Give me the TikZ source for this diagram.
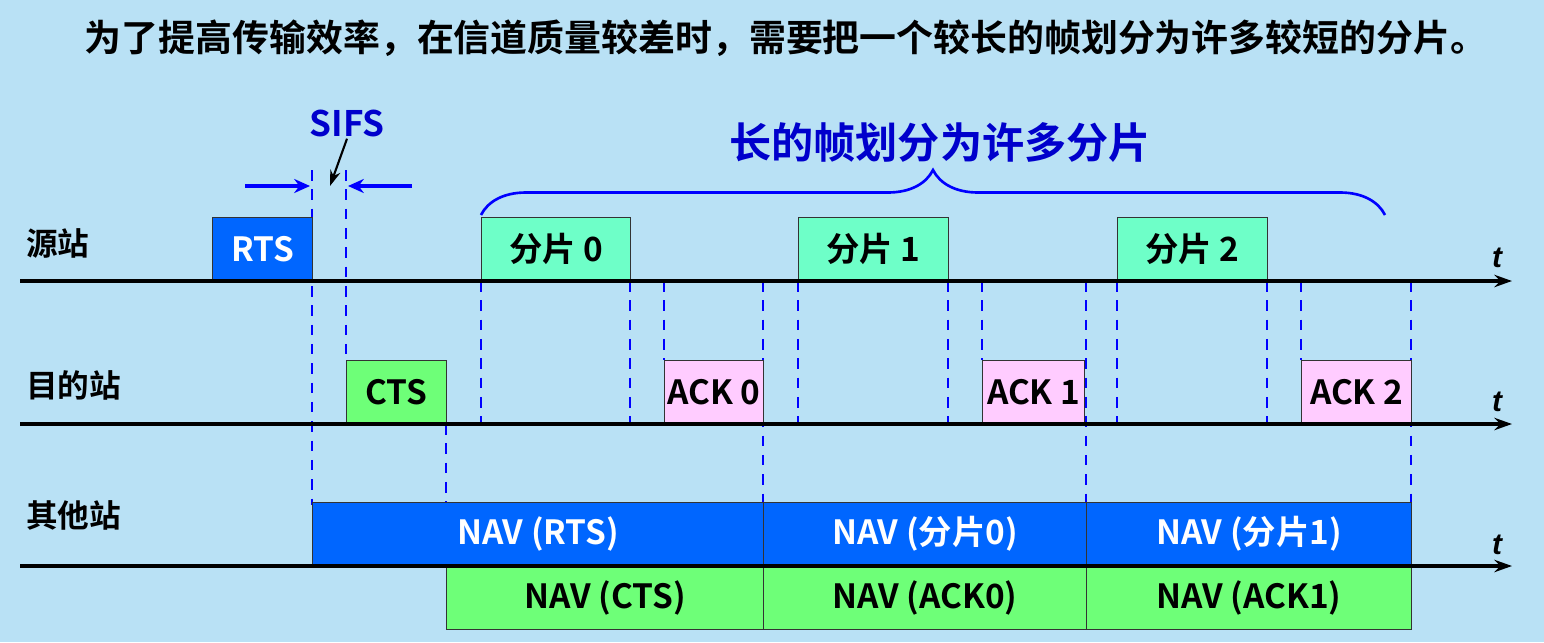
\documentclass[tikz,border=0pt]{standalone}
\usepackage{fontspec}
\setmainfont{Noto Sans CJK SC}[BoldFont={* Bold}]
\newfontfamily\axisfont{Liberation Sans}
\usetikzlibrary{decorations.pathreplacing,arrows.meta}
\definecolor{bgblue}{RGB}{185,225,245}
\definecolor{rtsblue}{RGB}{0,102,255}
\definecolor{fragmint}{RGB}{110,255,200}
\definecolor{ackpink}{RGB}{255,204,255}
\definecolor{ctsgreen}{RGB}{110,255,120}
\definecolor{sifsblue}{RGB}{0,0,204}
\tikzset{
  frame/.style={draw=black!80,line width=0.6pt,minimum height=63*0.02cm,inner sep=0pt,anchor=south west,font=\bfseries\fontsize{19}{19}\selectfont},
  bluebox/.style={frame,fill=rtsblue,text=white},
  fragbox/.style={frame,fill=fragmint},
  ackbox/.style={frame,fill=ackpink},
  greenbox/.style={frame,fill=ctsgreen},
  timeline/.style={line width=2pt,-{Stealth[length=10pt,width=7pt]}},
  guide/.style={blue,dashed,line width=1pt,dash pattern=on 6pt off 5pt},
  station/.style={anchor=west,font=\bfseries\fontsize{18}{18}\selectfont},
  taxis/.style={font=\axisfont\bfseries\itshape\fontsize{17}{17}\selectfont}
}
\begin{document}
\begin{tikzpicture}[x=0.02cm,y=-0.02cm]
    \fill[bgblue] (0,0) rectangle (1544,642);
    \useasboundingbox (0,0) rectangle (1544,642);

    \node[font=\bfseries\fontsize{21}{21}\selectfont] (title) at (786,38) {为了提高传输效率，在信道质量较差时，需要把一个较长的帧划分为许多较短的分片。};

    % stations and time axes
    \node[station] (src) at (20,243) {源站};
    \node[station] (dst) at (20,385) {目的站};
    \node[station] (oth) at (20,515) {其他站};
    \coordinate (a1) at (20,281); \coordinate (b1) at (1512,281);
    \coordinate (a2) at (20,424); \coordinate (b2) at (1512,424);
    \coordinate (a3) at (20,566); \coordinate (b3) at (1512,566);

    % dashed guides
    \draw[guide] (312,170) -- (312,505);
    \draw[guide] (346,170) -- (346,360);
    \draw[guide] (446,424) -- (446,566);
    \foreach \xa/\xb/\xc/\xd in {481/630/664/763,798/948/982/1086,1117/1267/1301/1411}{
        \draw[guide] (\xa,281) -- (\xa,424);
        \draw[guide] (\xb,281) -- (\xb,424);
        \draw[guide] (\xc,281) -- (\xc,360);
        \draw[guide] (\xd,281) -- (\xd,505);
    }

    % frames
    \node[bluebox,minimum width=100*0.02cm] (rts) at (212,281) {RTS};
    \node[greenbox,minimum width=100*0.02cm] (cts) at (346,424) {CTS};
    \node[fragbox,minimum width=149*0.02cm] (f0) at (481,281) {分片 0};
    \node[fragbox,minimum width=150*0.02cm] (f1) at (798,281) {分片 1};
    \node[fragbox,minimum width=150*0.02cm] (f2) at (1117,281) {分片 2};
    \node[ackbox,minimum width=99*0.02cm] (k0) at (664,424) {ACK 0};
    \node[ackbox,minimum width=102*0.02cm] (k1) at (982,424) {ACK 1};
    \node[ackbox,minimum width=110*0.02cm] (k2) at (1301,424) {ACK 2};

    \node[bluebox,minimum width=451*0.02cm] (navrts) at (312,566) {NAV (RTS)};
    \node[bluebox,minimum width=323*0.02cm] (navf0) at (763,566) {NAV (分片0)};
    \node[bluebox,minimum width=325*0.02cm] (navf1) at (1086,566) {NAV (分片1)};
    \node[greenbox,minimum width=317*0.02cm,anchor=north west] (navcts) at (446,566) {NAV (CTS)};
    \node[greenbox,minimum width=323*0.02cm,anchor=north west] (navk0) at (763,566) {NAV (ACK0)};
    \node[greenbox,minimum width=325*0.02cm,anchor=north west] (navk1) at (1086,566) {NAV (ACK1)};

    \draw[timeline] (a1) -- (b1);
    \draw[timeline] (a2) -- (b2);
    \draw[timeline] (a3) -- (b3);
    \node[taxis] at (1497,258) {t};
    \node[taxis] at (1497,402) {t};
    \node[taxis] at (1497,545) {t};

    % SIFS
    \node[text=sifsblue,font=\bfseries\fontsize{20}{20}\selectfont] (sifs) at (347,123) {SIFS};
    \coordinate (sifstip) at (330,186);
    \draw[line width=1.2pt,-{Stealth[length=9pt,width=6pt]}] (sifs.south) ++(0,-4) -- (sifstip);
    \coordinate (la) at (245,186); \coordinate (lb) at (310,186);
    \coordinate (ra) at (412,186); \coordinate (rb) at (348,186);
    \draw[blue,line width=2pt,-{Stealth[length=9pt,width=8pt]}] (la) -- (lb);
    \draw[blue,line width=2pt,-{Stealth[length=9pt,width=8pt]}] (ra) -- (rb);

    % brace over fragments
    \coordinate (bl) at (481,215); \coordinate (br) at (1385,215);
    \draw[blue,line width=1.5pt,decorate,decoration={brace,amplitude=0.9cm,aspect=0.5}] (bl) -- (br);
    \node[text=sifsblue,font=\bfseries\fontsize{24}{24}\selectfont] (fraglabel) at (940,143) {长的帧划分为许多分片};
\end{tikzpicture}
\end{document}
